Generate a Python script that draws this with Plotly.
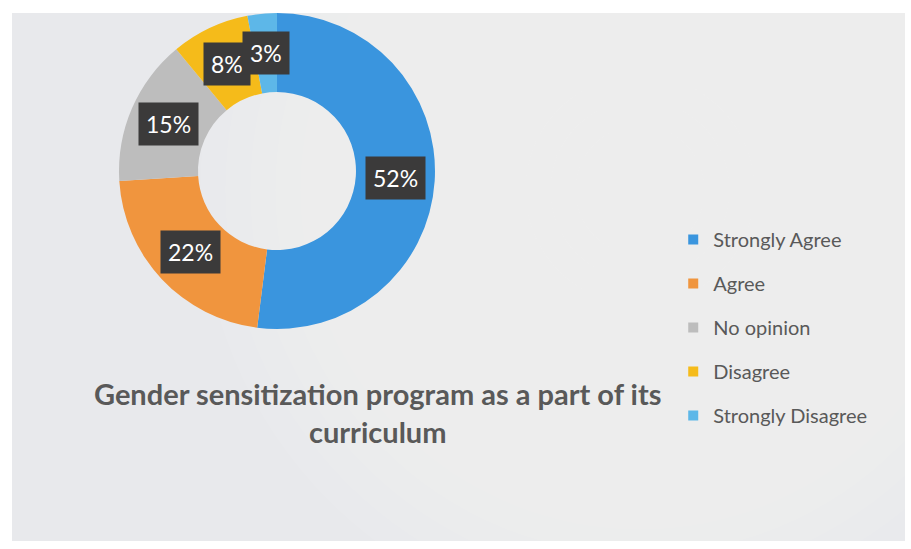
import math
import plotly.graph_objects as go

# Survey responses
categories = ["Strongly Agree", "Agree", "No opinion", "Disagree", "Strongly Disagree"]
shares = [52, 22, 15, 8, 3]
colors = ["#3a95de", "#f0953e", "#bdbdbd", "#f5bb1a", "#5db7e8"]
title_text = "Gender sensitization program as a part of its<br>curriculum"

W, H = 911, 549
FONT = "Lato, 'Open Sans', sans-serif"
TEXT_GREY = "#595959"

# Donut placement on the page (paper fractions)
dom_x = [0.1306, 0.4775]
dom_y = [0.4007, 0.9763]
hole = 0.5

fig = go.Figure()

fig.add_trace(go.Pie(
    labels=categories,
    values=shares,
    hole=hole,
    sort=False,
    direction="clockwise",
    rotation=0,
    marker=dict(colors=colors, line=dict(width=0)),
    textinfo="none",
    hoverinfo="label+percent",
    showlegend=False,
    domain=dict(x=dom_x, y=dom_y),
))

# Percentage labels in dark boxes, at the middle of each ring segment
cx = (dom_x[0] + dom_x[1]) / 2 * W
cy = (1 - (dom_y[0] + dom_y[1]) / 2) * H
R = 0.5 * min((dom_x[1] - dom_x[0]) * W, (dom_y[1] - dom_y[0]) * H)
r_mid = R * (1 + hole) / 2
total = sum(shares)
cum = 0
for val in shares:
    mid = (cum + val / 2) / total * 2 * math.pi
    cum += val
    px = cx + r_mid * math.sin(mid)
    py = cy - r_mid * math.cos(mid)
    fig.add_annotation(
        x=px / W, y=1 - py / H, xref="paper", yref="paper",
        text=f"{val}%", showarrow=False,
        font=dict(family=FONT, size=23, color="white"),
        bgcolor="#3b3a3a", borderpad=7,
        xanchor="center", yanchor="middle",
    )

# Chart title below the donut
fig.add_annotation(
    x=377 / W, y=1 - 412 / H, xref="paper", yref="paper",
    text=f"<b>{title_text}</b>", showarrow=False,
    font=dict(family=FONT, size=29, color=TEXT_GREY),
    align="center", xanchor="center", yanchor="middle",
)

# Legend entries (one group each to control spacing)
for i, (name, col) in enumerate(zip(categories, colors)):
    fig.add_trace(go.Scatter(
        x=[None], y=[None], mode="markers", name=name,
        marker=dict(symbol="square", size=10, color=col),
        legendgroup=f"g{i}", showlegend=True, hoverinfo="skip",
    ))

# Soft lighter glow towards the upper right of the panel (many faint layers)
glow = [
    dict(type="circle", xref="paper", yref="paper", layer="below",
         x0=(640 - r) / W, x1=(640 + r) / W, y0=1 - (190 + r) / H, y1=1 - (190 - r) / H,
         fillcolor="white", opacity=0.05, line=dict(width=0))
    for r in range(440, 40, -25)
]

fig.update_layout(
    width=W, height=H,
    margin=dict(l=0, r=0, t=0, b=0),
    paper_bgcolor="white",
    plot_bgcolor="rgba(0,0,0,0)",
    xaxis=dict(visible=False),
    yaxis=dict(visible=False),
    legend=dict(
        x=0.739, y=1 - 220 / H, xanchor="left", yanchor="top",
        font=dict(family=FONT, size=20, color=TEXT_GREY),
        bgcolor="rgba(0,0,0,0)", tracegroupgap=15, itemwidth=30,
    ),
    shapes=[dict(
        type="rect", xref="paper", yref="paper", layer="below",
        x0=12 / W, x1=905 / W, y0=1 - 541 / H, y1=1 - 13 / H,
        fillcolor="#e8e9ec", line=dict(width=0),
    )] + glow,
)

fig.write_html("out.html")
